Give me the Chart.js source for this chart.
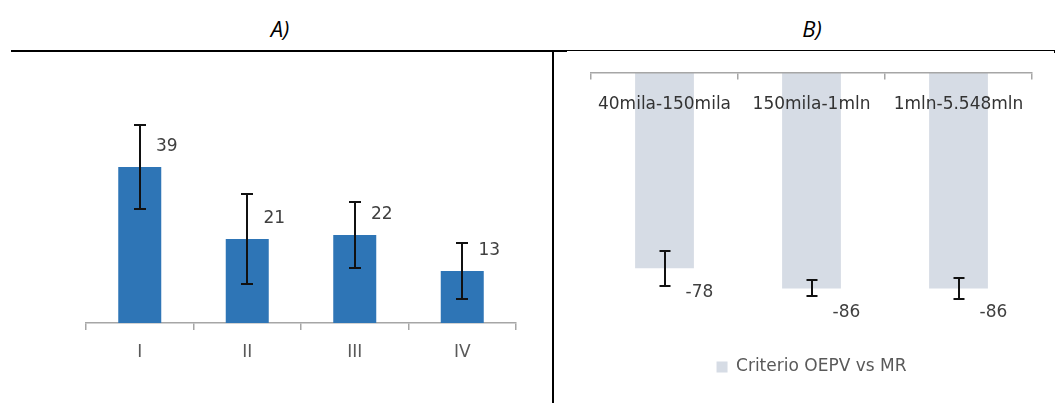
<!DOCTYPE html>
<html>
<head>
<meta charset="utf-8">
<script src="https://cdn.jsdelivr.net/npm/chart.js@4/dist/chart.umd.min.js"></script>
<style>
  html, body { margin: 0; padding: 0; background: #fff; }
  #page { position: relative; width: 1056px; height: 403px; overflow: hidden; font-family: "Open Sans", sans-serif; }
  .head { position: absolute; top: 10px; width: 60px; margin-left: -30px; text-align: center; font-style: italic; font-size: 22px; line-height: 36px; color: #000; }
  .rule { position: absolute; background: #000; }
  canvas { position: absolute; }
</style>
</head>
<body>
<div id="page">
  <div class="head" style="left:280px">A)</div>
  <div class="head" style="left:812px">B)</div>
  <div class="rule" style="left:11px; top:50px; width:556px; height:2px"></div>
  <div class="rule" style="left:567px; top:50px; width:488px; height:1px"></div>
  <div class="rule" style="left:1054px; top:50px; width:1px; height:3px"></div>
  <div class="rule" style="left:552px; top:50px; width:2px; height:353px"></div>
  <canvas id="chartA" width="553" height="348" style="left:0; top:55px"></canvas>
  <canvas id="chartB" width="501" height="348" style="left:555px; top:55px"></canvas>
</div>
<script>
// Panel A: classes I-IV
const categoriesA = ['I', 'II', 'III', 'IV'];
const valuesA = [39, 21, 22, 13];
const errorsA = [10.5, 11.25, 8.25, 7.0];

// Panel B: population bands
const categoriesB = ['40mila-150mila', '150mila-1mln', '1mln-5.548mln'];
const valuesB = [-78, -86, -86];
const errorsB = [7.0, 3.2, 4.2];
const seriesNameB = 'Criterio OEPV vs MR';

const FONT = 'DejaVu Sans';
const SIZE = 17;
Chart.defaults.font.family = FONT;
Chart.defaults.font.size = SIZE;
Chart.defaults.animation = false;

// Symmetric error bars drawn through the value scale
const errorBars = {
  id: 'errorBars',
  afterDatasetsDraw(chart, args, opts) {
    const ctx = chart.ctx;
    const yScale = chart.scales.y;
    const ds = chart.data.datasets[0];
    const meta = chart.getDatasetMeta(0);
    ctx.save();
    ctx.strokeStyle = opts.color;
    ctx.lineWidth = opts.width;
    meta.data.forEach((bar, i) => {
      const v = ds.data[i];
      const e = opts.errors[i];
      const yHi = Math.round(yScale.getPixelForValue(v + e));
      const yLo = Math.round(yScale.getPixelForValue(v - e));
      const x = Math.round(bar.x);
      const c = opts.cap / 2;
      ctx.beginPath();
      ctx.moveTo(x, yHi); ctx.lineTo(x, yLo);
      ctx.moveTo(x - c, yHi); ctx.lineTo(x + c, yHi);
      ctx.moveTo(x - c, yLo); ctx.lineTo(x + c, yLo);
      ctx.stroke();
    });
    ctx.restore();
  }
};

// Value labels next to each bar end
const valueLabels = {
  id: 'valueLabels',
  afterDatasetsDraw(chart, args, opts) {
    const ctx = chart.ctx;
    const ds = chart.data.datasets[0];
    const meta = chart.getDatasetMeta(0);
    ctx.save();
    ctx.fillStyle = opts.color;
    ctx.font = SIZE + 'px "' + FONT + '"';
    ctx.textAlign = 'center';
    ctx.textBaseline = 'middle';
    meta.data.forEach((bar, i) => {
      ctx.fillText(String(ds.data[i]), bar.x + opts.dx, bar.y + opts.dy);
    });
    ctx.restore();
  }
};

new Chart(document.getElementById('chartA'), {
  type: 'bar',
  data: {
    labels: categoriesA,
    datasets: [{
      data: valuesA,
      backgroundColor: '#2e75b6',
      borderWidth: 0,
      categoryPercentage: 1,
      barPercentage: 0.4
    }]
  },
  options: {
    responsive: false,
    layout: { padding: { left: 86, right: 37, top: 68, bottom: 0 } },
    scales: {
      x: {
        position: 'bottom',
        afterFit: s => { s.height = 80; },
        grid: { drawOnChartArea: false, drawTicks: true, tickLength: 7, color: '#a6a6a6', lineWidth: 1.5 },
        border: { color: '#a6a6a6', width: 1.5 },
        ticks: { color: '#595959', padding: 12 }
      },
      y: { display: false, min: 0, max: 50 }
    },
    plugins: {
      legend: { display: false },
      tooltip: { enabled: false },
      errorBars: { errors: errorsA, cap: 12, color: '#111', width: 2 },
      valueLabels: { dx: 27, dy: -20, color: '#404040' }
    }
  },
  plugins: [errorBars, valueLabels]
});

new Chart(document.getElementById('chartB'), {
  type: 'bar',
  data: {
    labels: categoriesB,
    datasets: [{
      label: seriesNameB,
      data: valuesB,
      backgroundColor: '#d6dce5',
      borderWidth: 0,
      categoryPercentage: 1,
      barPercentage: 0.4
    }]
  },
  options: {
    responsive: false,
    layout: { padding: { left: 36, right: 24, top: 18, bottom: 17.5 } },
    scales: {
      x: {
        position: { y: 0 },
        grid: { z: 1, drawOnChartArea: false, drawTicks: true, tickLength: 6, color: '#a6a6a6', lineWidth: 1.5 },
        border: { z: 1, color: '#a6a6a6', width: 1.5 },
        ticks: { z: 1, color: '#333333', padding: 15 }
      },
      y: { display: false, min: -110, max: 0 }
    },
    plugins: {
      legend: {
        position: 'bottom',
        labels: { boxWidth: 11, boxHeight: 11, color: '#595959', padding: 10 }
      },
      tooltip: { enabled: false },
      errorBars: { errors: errorsB, cap: 11, color: '#111', width: 2 },
      valueLabels: { dx: 35, dy: 24, color: '#404040' }
    }
  },
  plugins: [errorBars, valueLabels]
});
</script>
</body>
</html>
